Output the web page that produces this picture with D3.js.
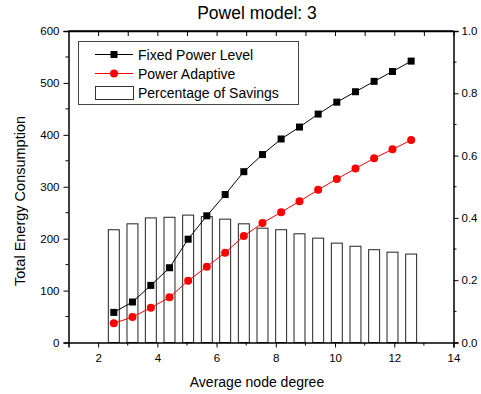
<!DOCTYPE html>
<html>
<head>
<meta charset="utf-8">
<script src="https://cdn.jsdelivr.net/npm/d3@7"></script>
<style>
  body { margin: 0; background: #fff; }
  svg { display: block; font-family: "Liberation Sans", Arial, sans-serif; }
</style>
</head>
<body>
<div id="chart"></div>
<script>
// chart data
var degrees = [2.53, 3.16, 3.78, 4.41, 5.04, 5.67, 6.29, 6.92, 7.55, 8.18, 8.8, 9.43, 10.06, 10.69, 11.32, 11.94, 12.57];
var fixedPower = [58, 78, 110, 144, 199, 244, 285, 329, 362, 392, 415, 440, 463, 483, 503, 522, 542];
var adaptivePower = [37, 49, 67, 87, 119, 146, 173, 205, 230, 251, 272, 294, 315, 335, 355, 372, 390];
var savings = [0.362, 0.381, 0.400, 0.402, 0.409, 0.404, 0.396, 0.381, 0.367, 0.362, 0.349, 0.335, 0.319, 0.309, 0.298, 0.290, 0.284];

var xTicks = [2, 4, 6, 8, 10, 12, 14];
var yTicks = [0, 100, 200, 300, 400, 500, 600];
var y2Ticks = [0, 0.2, 0.4, 0.6, 0.8, 1.0];

var width = 481,
	height = 394;

// plot box (window.top is reserved, so plotTop etc.)
var plotLeft = 68.5, plotRight = 453.5, plotTop = 31, plotBottom = 342.5;
var tickLen = 5, minorLen = 3;

var svg = d3.select("#chart").append("svg")
	.attr("width", width)
	.attr("height", height);

var x = d3.scaleLinear().domain([1, 14]).range([plotLeft, plotRight]);
var y = d3.scaleLinear().domain([0, 600]).range([plotBottom, plotTop]);
var y2 = d3.scaleLinear().domain([0, 1]).range([plotBottom, plotTop]);

// bars (percentage of savings) on the right axis
var barW = x(1.37) - x(1);
svg.append("g")
	.selectAll("rect")
	.data(savings)
	.enter()
	.append("rect")
	.attr("x", (d, i) => x(degrees[i]) - barW / 2)
	.attr("y", d => y2(d))
	.attr("width", barW)
	.attr("height", d => plotBottom - y2(d))
	.attr("fill", "#fff")
	.attr("stroke", "#222")
	.attr("stroke-width", 1);

// lines
var line = d3.line()
	.x((d, i) => x(degrees[i]))
	.y(d => y(d));

svg.append("path")
	.datum(fixedPower)
	.attr("d", line)
	.attr("fill", "none")
	.attr("stroke", "#000")
	.attr("stroke-width", 1);

svg.append("path")
	.datum(adaptivePower)
	.attr("d", line)
	.attr("fill", "none")
	.attr("stroke", "#ff0000")
	.attr("stroke-width", 1);

var sq = 7;
svg.append("g")
	.selectAll("rect")
	.data(fixedPower)
	.enter()
	.append("rect")
	.attr("x", (d, i) => x(degrees[i]) - sq / 2)
	.attr("y", d => y(d) - sq / 2)
	.attr("width", sq)
	.attr("height", sq)
	.attr("fill", "#000");

svg.append("g")
	.selectAll("circle")
	.data(adaptivePower)
	.enter()
	.append("circle")
	.attr("cx", (d, i) => x(degrees[i]))
	.attr("cy", d => y(d))
	.attr("r", 4)
	.attr("fill", "#ff0000");

// axes
var bottomAxis = d3.axisBottom(x).tickValues(xTicks).tickFormat(d3.format("d")).tickSize(tickLen).tickPadding(6);
var gx = svg.append("g").attr("transform", "translate(0," + plotBottom + ")").call(bottomAxis);
gx.selectAll("line.minor")
	.data([3, 5, 7, 9, 11, 13])
	.enter()
	.append("line")
	.attr("class", "minor")
	.attr("x1", d => x(d)).attr("x2", d => x(d))
	.attr("y1", 0).attr("y2", minorLen)
	.attr("stroke", "#000");

var topAxis = d3.axisBottom(x).tickValues(d3.range(2, 15)).tickFormat("").tickSize(tickLen).tickSizeOuter(0);
svg.append("g").attr("transform", "translate(0," + plotTop + ")").call(topAxis);

var leftAxis = d3.axisLeft(y).tickValues(yTicks).tickFormat(d3.format("d")).tickSize(tickLen).tickPadding(4);
var gy = svg.append("g").attr("transform", "translate(" + plotLeft + ",0)").call(leftAxis);
gy.selectAll("line.minor")
	.data([50, 150, 250, 350, 450, 550])
	.enter()
	.append("line")
	.attr("class", "minor")
	.attr("x1", -minorLen).attr("x2", 0)
	.attr("y1", d => y(d)).attr("y2", d => y(d))
	.attr("stroke", "#000");

var rightAxis = d3.axisRight(y2).tickValues(y2Ticks).tickFormat(d3.format(".1f")).tickSize(tickLen).tickPadding(3);
var gy2 = svg.append("g").attr("transform", "translate(" + plotRight + ",0)").call(rightAxis);
gy2.selectAll("line.minor")
	.data([0.1, 0.3, 0.5, 0.7, 0.9])
	.enter()
	.append("line")
	.attr("class", "minor")
	.attr("x1", 0).attr("x2", minorLen)
	.attr("y1", d => y2(d)).attr("y2", d => y2(d))
	.attr("stroke", "#000");

svg.selectAll(".domain").attr("stroke", "#000").attr("stroke-width", 1.5);
svg.selectAll(".tick text").attr("font-size", 11.5).attr("fill", "#000")
	.attr("font-family", "'Liberation Sans', Arial, sans-serif");

// frame line on top
svg.append("line").attr("x1", plotLeft).attr("x2", plotRight).attr("y1", plotTop).attr("y2", plotTop)
	.attr("stroke", "#000").attr("stroke-width", 1.5);

// titles
svg.append("text")
	.attr("x", 257).attr("y", 19)
	.attr("text-anchor", "middle")
	.attr("font-size", 17.5)
	.text("Powel model: 3");

svg.append("text")
	.attr("x", 257).attr("y", 387)
	.attr("text-anchor", "middle")
	.attr("font-size", 14)
	.text("Average node degree");

svg.append("text")
	.attr("transform", "translate(25,201) rotate(-90)")
	.attr("text-anchor", "middle")
	.attr("font-size", 14.5)
	.text("Total Energy Consumption");

// legend
var legend = svg.append("g");
legend.append("rect")
	.attr("x", 78.5).attr("y", 41.5)
	.attr("width", 220).attr("height", 63)
	.attr("fill", "#fff")
	.attr("stroke", "#444")
	.attr("stroke-width", 1);

var rows = [
	{name: "Fixed Power Level", type: "square", color: "#000"},
	{name: "Power Adaptive", type: "circle", color: "#ff0000"},
	{name: "Percentage of Savings", type: "bar", color: "#222"}
];
var rowY = [54.5, 73.5, 93];

legend.selectAll("g")
	.data(rows)
	.enter()
	.append("g")
	.each(function(d, i) {
		var g = d3.select(this);
		var cy = rowY[i];
		if (d.type == "bar") {
			g.append("rect").attr("x", 95.5).attr("y", cy - 6.5).attr("width", 38).attr("height", 13)
				.attr("fill", "#fff").attr("stroke", "#333");
		} else {
			g.append("line").attr("x1", 95).attr("x2", 133).attr("y1", cy).attr("y2", cy)
				.attr("stroke", d.color).attr("stroke-width", 1);
			if (d.type == "square") {
				g.append("rect").attr("x", 114 - sq / 2).attr("y", cy - sq / 2).attr("width", sq).attr("height", sq).attr("fill", d.color);
			} else {
				g.append("circle").attr("cx", 114).attr("cy", cy).attr("r", 4).attr("fill", d.color);
			}
		}
		g.append("text")
			.attr("x", 138).attr("y", cy + 5)
			.attr("font-size", 14)
			.text(d.name);
	});
</script>
</body>
</html>
